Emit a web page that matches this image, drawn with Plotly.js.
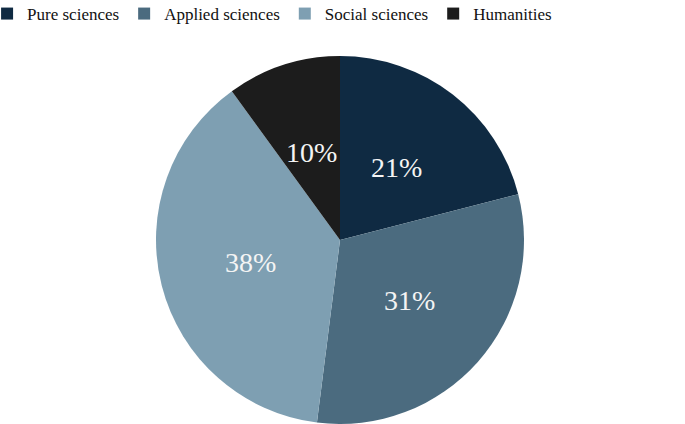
<!DOCTYPE html>
<html>
<head>
<meta charset="utf-8">
<script src="https://cdn.plot.ly/plotly-3.0.1.min.js"></script>
<style>
  html, body { margin: 0; padding: 0; background: #fff; }
  #chart { width: 685px; height: 424px; }
</style>
</head>
<body>
<div id="chart"></div>
<script>
// field shares
const fields = ['Pure sciences', 'Applied sciences', 'Social sciences', 'Humanities'];
const shares = [21, 31, 38, 10];
const sliceColors = ['#0f2a42', '#4b6b7f', '#7e9fb2', '#1c1c1c'];

const serif = 'Liberation Serif';

const W = 685, H = 424;
const margin = { l: 0, r: 5, t: 56, b: 0, autoexpand: false };
const plotW = W - margin.l - margin.r;
const plotH = H - margin.t - margin.b;
const radius = Math.min(plotW, plotH) / 2;

// percent labels sit halfway out along each slice's bisector
const total = shares.reduce((a, b) => a + b, 0);
let cum = 0;
const labelNotes = shares.map(v => {
    const mid = (cum + v / 2) / total * 2 * Math.PI;
    cum += v;
    const r = radius * 0.5;
    return {
        xref: 'paper', yref: 'paper',
        x: 0.5 + r * Math.sin(mid) / plotW,
        y: 0.5 + r * Math.cos(mid) / plotH,
        xanchor: 'center', yanchor: 'middle',
        text: Math.round(v / total * 100) + '%',
        showarrow: false,
        font: { family: serif, size: 28, color: '#f4f4f4' }
    };
});

const pieTrace = {
    type: 'pie',
    labels: fields,
    values: shares,
    sort: false,
    direction: 'clockwise',
    rotation: 0,
    marker: { colors: sliceColors, line: { width: 0 } },
    textinfo: 'none',
    hoverinfo: 'label+percent'
};

Plotly.newPlot('chart', [pieTrace], {
    width: W,
    height: H,
    margin: margin,
    paper_bgcolor: '#fff',
    font: { family: serif },
    showlegend: true,
    annotations: labelNotes,
    legend: {
        orientation: 'h',
        x: -0.019,
        xanchor: 'left',
        y: 1.163,
        yanchor: 'top',
        font: { family: serif, size: 17, color: '#111' },
        traceorder: 'normal'
    }
}, { displayModeBar: false, staticPlot: true });
</script>
</body>
</html>
